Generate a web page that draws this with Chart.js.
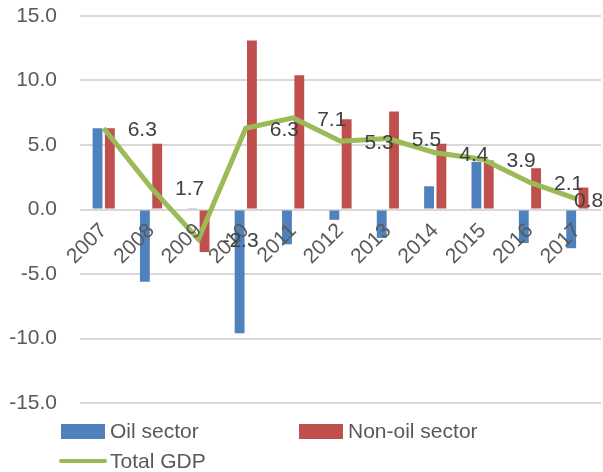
<!DOCTYPE html>
<html>
<head>
<meta charset="utf-8">
<script src="https://cdn.jsdelivr.net/npm/chart.js@4"></script>
<style>
  html, body { margin: 0; padding: 0; background: #fff; }
  #wrap { position: relative; width: 603px; height: 472px; }
  #legend { position: absolute; left: 0; top: 0; width: 603px; height: 472px; pointer-events: none;
            font-family: "Liberation Sans", Arial, sans-serif; font-size: 21px; color: #595959; }
  .item { position: absolute; display: flex; align-items: center; white-space: nowrap; }
  .box { width: 44px; height: 15px; margin-right: 5px; }
  .line { width: 48px; height: 4px; border-radius: 2px; margin-right: 3px; }
</style>
</head>
<body>
<div id="wrap">
  <canvas id="gdpChart" width="603" height="472"></canvas>
  <div id="legend"></div>
</div>
<script>
// values
const years = ["2007", "2008", "2009", "2010", "2011", "2012", "2013", "2014", "2015", "2016", "2017"];
const oilSector = [6.3, -5.6, 0.1, -9.6, -2.7, -0.8, -2.2, 1.8, 3.7, -2.6, -3.0];
const nonOilSector = [6.3, 5.1, -3.3, 13.1, 10.4, 7.0, 7.6, 5.1, 3.8, 3.2, 1.7];
const totalGdp = [6.3, 1.7, -2.3, 6.3, 7.1, 5.3, 5.5, 4.4, 3.9, 2.1, 0.8];
const yTicks = [-15, -10, -5, 0, 5, 10, 15];

const FONT = "'Liberation Sans', Arial, sans-serif";

// data labels to the right of the line points, as Excel puts them
const lineLabels = {
    id: "lineLabels",
    afterDraw(chart) {
        const meta = chart.getDatasetMeta(2);
        const ctx = chart.ctx;
        ctx.save();
        ctx.font = "21px " + FONT;
        ctx.fillStyle = "#404040";
        ctx.textAlign = "left";
        ctx.textBaseline = "middle";
        meta.data.forEach(function (pt, i) {
            // Excel pulls the last label back inside the chart
            const x = Math.min(pt.x + 24, chart.width - 29);
            ctx.fillText(totalGdp[i].toFixed(1), x, pt.y + 2);
        });
        ctx.restore();
    }
};

const ctx = document.getElementById("gdpChart").getContext("2d");
const chart = new Chart(ctx, {
    type: "bar",
    data: {
        labels: years,
        datasets: [{
            label: "Oil sector",
            data: oilSector,
            backgroundColor: "#4F81BD",
            categoryPercentage: 0.52,
            barPercentage: 0.8,
            order: 1
        }, {
            label: "Non-oil sector",
            data: nonOilSector,
            backgroundColor: "#C0504D",
            categoryPercentage: 0.52,
            barPercentage: 0.8,
            order: 1
        }, {
            type: "line",
            label: "Total GDP",
            data: totalGdp,
            borderColor: "#9BBB59",
            borderWidth: 5,
            pointRadius: 0,
            tension: 0,
            fill: false,
            order: 0
        }]
    },
    options: {
        responsive: false,
        animation: false,
        layout: { padding: { top: 16, right: 2, bottom: 69, left: 0 } },
        plugins: {
            legend: { display: false },
            tooltip: { enabled: false }
        },
        scales: {
            x: {
                position: { y: 0 },
                grid: { display: false },
                border: { display: false },
                ticks: {
                    z: 1,
                    color: "#595959",
                    font: { family: FONT, size: 21 },
                    minRotation: 45,
                    maxRotation: 45,
                    padding: 1,
                    autoSkip: false
                },
                afterFit(scale) {
                    scale.paddingLeft = 0;
                    scale.paddingRight = 0;
                    scale.paddingTop = 0;
                    scale.paddingBottom = 0;
                }
            },
            y: {
                min: -15,
                max: 15,
                afterBuildTicks(scale) {
                    scale.ticks = yTicks.map(v => ({ value: v }));
                },
                grid: { color: "#d9d9d9", lineWidth: 2, drawTicks: false },
                border: { display: false },
                ticks: {
                    color: "#595959",
                    font: { family: FONT, size: 21 },
                    padding: 23,
                    callback: v => Number(v).toFixed(1)
                },
                afterFit(scale) {
                    // plot starts at x = 80 like the original
                    scale.width = 80;
                    scale.paddingTop = 0;
                    scale.paddingBottom = 0;
                }
            }
        }
    },
    plugins: [lineLabels]
});

// legend built from the datasets, laid out like the original
const legendPos = [
    { left: 61, top: 419 },
    { left: 299, top: 419 },
    { left: 59, top: 449 }
];
const legendEl = document.getElementById("legend");
chart.data.datasets.forEach(function (ds, i) {
    const item = document.createElement("div");
    item.className = "item";
    item.style.left = legendPos[i].left + "px";
    item.style.top = legendPos[i].top + "px";
    const mark = document.createElement("span");
    if (ds.type === "line") {
        mark.className = "line";
        mark.style.background = ds.borderColor;
    } else {
        mark.className = "box";
        mark.style.background = ds.backgroundColor;
    }
    const txt = document.createElement("span");
    txt.textContent = ds.label;
    item.appendChild(mark);
    item.appendChild(txt);
    legendEl.appendChild(item);
});
</script>
</body>
</html>
